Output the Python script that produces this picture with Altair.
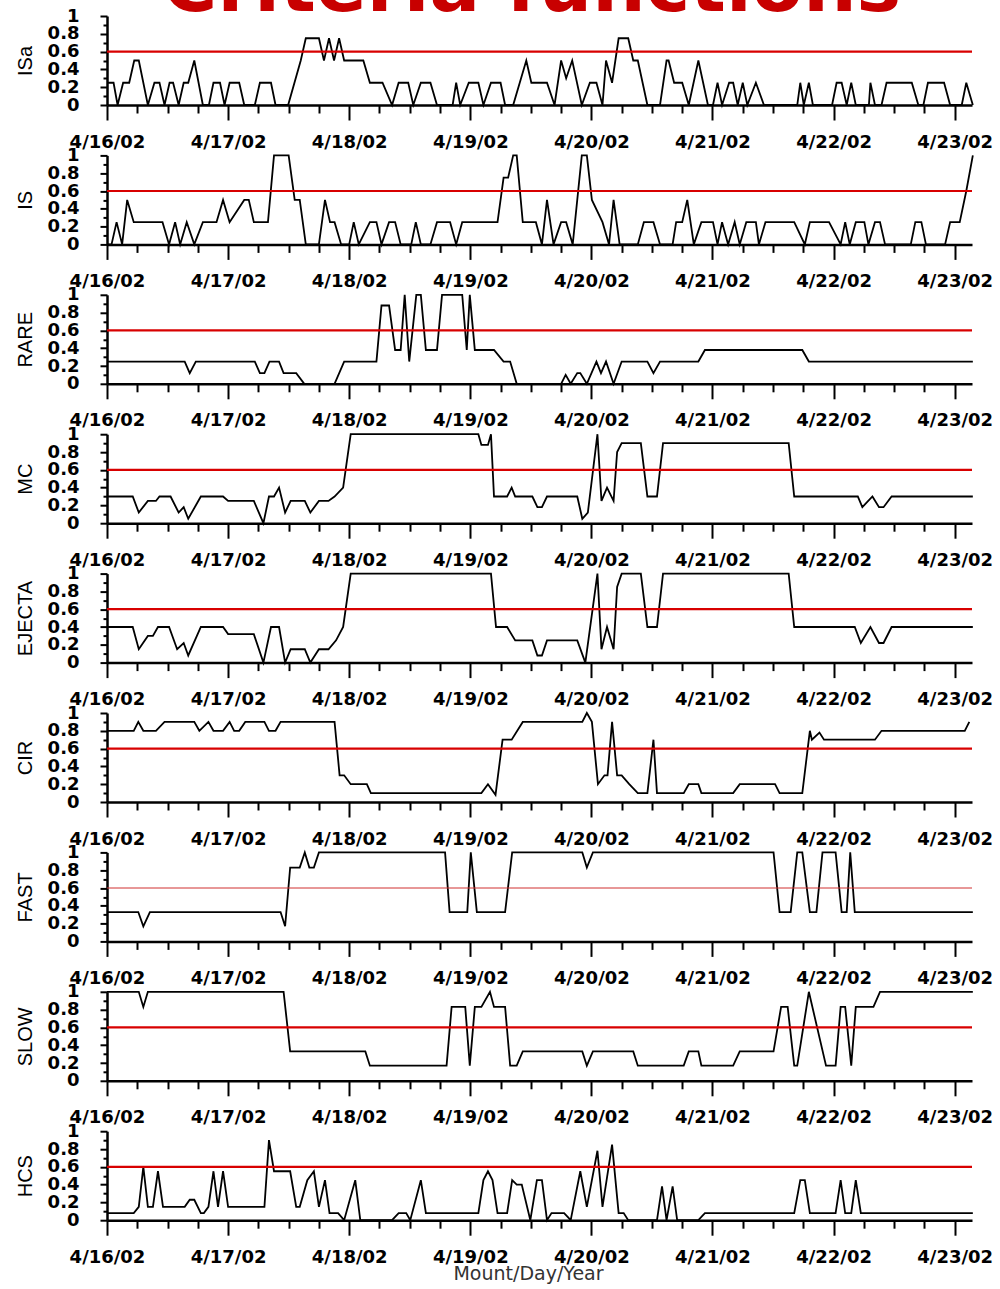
import altair as alt
import pandas as pd

# Hourly criteria-function series, hours counted from 2002-04-16 00:00
START = "2002-04-16"
THRESHOLD = [0.6]

ISA_H = [0, 1.3, 2.1, 3.2, 4.4, 5.4, 6.3, 8.1, 9.4, 10.4, 11.4, 12.4, 13.1, 14.2, 15.2, 16.1, 17.3, 19, 20.2, 21.1,
         22.4, 23.3, 24.3, 26.2, 27.2, 29.3, 30.3, 32.5, 33.4, 35.9, 38.4, 39.4, 42, 43, 44, 45, 46, 47, 50.8, 52.1,
         54.6, 56.5, 57.8, 59.7, 60.7, 62.2, 64.1, 65.4, 68.5, 69.2, 70, 71.7, 73.6, 74.6, 76.1, 78, 78.9, 80.5, 83.1,
         84.1, 87.2, 88.7, 90, 91, 92.2, 94.1, 95.7, 97, 98.2, 98.9, 100.1, 101.4, 103.3, 104.3, 105.2, 107.1, 109.6,
         110.9, 111.3, 112.4, 114, 115.3, 117.2, 119.1, 120.1, 121, 121.9, 123.3, 124.1, 125, 126, 126.9, 128.6, 130.2,
         136.8, 137.4, 138.1, 139.1, 139.9, 143.7, 144.6, 145.6, 146.6, 147.5, 148.4, 151, 151.3, 152.2, 153.5, 154.5,
         159.5, 160.8, 161.8, 162.7, 165.9, 167.1, 169.4, 170.3, 171.6]
ISA_V = [.25, .25, 0, .25, .25, .5, .5, 0, .25, .25, 0, .25, .25, 0, .25, .25, .5, 0, 0, .25,
         .25, 0, .25, .25, 0, 0, .25, .25, 0, 0, .5, .75, .75, .5, .75, .5, .75, .5, .5, .25,
         .25, 0, .25, .25, 0, .25, .25, 0, 0, .25, 0, .25, .25, 0, .25, .25, 0, 0, .5,
         .25, .25, 0, .5, .3, .5, 0, .25, .25, 0, .5, .25, .75, .75, .5, .5, 0, 0,
         .5, .5, .25, .25, 0, .5, 0, 0, .25, 0, .25, .25, 0, .25, 0, .25, 0,
         0, .25, 0, .25, 0, 0, .25, .25, 0, .25, 0, 0, .25, 0, 0, .25,
         .25, 0, 0, .25, .25, 0, 0, .25, 0]

IS_H = [0, 0.9, 1.9, 3, 4, 5.3, 11, 12.3, 13.5, 14.5, 15.8, 17.3, 19, 21.7, 23, 24.3, 27.2, 28.1, 29.1, 31.9,
        33.1, 36, 37.2, 38.2, 39.4, 42, 43.2, 44.2, 45.1, 46.4, 48, 48.9, 49.9, 52.1, 53.4, 54.4, 55.9, 57.1, 58.2,
        60.3, 61.2, 62.2, 64.1, 65.4, 68, 69.2, 70.4, 77.4, 78.6, 79.5, 80.5, 81.2, 82.4, 85, 86.2, 87.2, 88.5, 90,
        91, 92.3, 94.1, 95.1, 96.1, 98.2, 99.5, 100.4, 101.6, 105.2, 106.4, 108.3, 109.6, 112.1, 112.8, 114, 115,
        116.3, 117.8, 120.1, 121, 121.9, 123.1, 124.4, 125.4, 126.7, 128.6, 129.2, 130.5, 136.2, 138.3, 139.3, 143.1,
        145.4, 146.3, 147.2, 148.4, 150.1, 150.9, 152.2, 153.2, 154.2, 159.3, 160.2, 161.4, 162.3, 166.1, 167.1, 169,
        170.3, 171.6]
IS_V = [0, 0, .25, 0, .5, .25, .25, 0, .25, 0, .25, 0, .25, .25, .5, .25, .5, .5, .25, .25,
        1, 1, .5, .5, 0, 0, .5, .25, .25, 0, 0, .25, 0, .25, .25, 0, .25, .25, 0,
        0, .25, 0, 0, .25, .25, 0, .25, .25, .75, .75, 1, 1, .25, .25, 0, .5, 0, .25,
        .25, 0, 1, 1, .5, .25, 0, .5, 0, 0, .25, .25, 0, 0, .25, .25, .5,
        0, .25, .25, 0, .25, 0, .25, 0, .25, .25, 0, .25, .25, 0, .25, .25,
        0, .25, 0, .25, .25, 0, .25, .25, 0, 0, .25, .25, 0, 0, .25, .25,
        .6, 1]

RARE_H = [0, 15.4, 16.4, 17.6, 29.3, 30.3, 31.2, 32.2, 34.1, 35, 37.5, 39.1, 45.1, 47, 53.4, 54.4, 55.9, 57.1, 58.2,
          59, 59.9, 61.3, 62.2, 63.2, 65.4, 66.4, 70.4, 71.3, 71.9, 72.9, 76.7, 78.6, 79.9, 81.2, 90, 90.9, 91.9, 93.2,
          93.8, 95.1, 97, 97.9, 98.9, 100.4, 102, 107.1, 108.3, 109.6, 117.2, 118.5, 137.8, 139.1, 171.6]
RARE_V = [.25, .25, .12, .25, .25, .12, .12, .25, .25, .12, .12, 0, 0, .25, .25, .88, .88, .38, .38,
          1, .25, 1, 1, .38, .38, 1, 1, .38, 1, .38, .38, .25, .25, 0, 0, .1, 0, .12,
          .12, 0, .25, .12, .25, 0, .25, .25, .12, .25, .25, .38, .38, .25, .25]

MC_H = [0, 5.1, 6.3, 8.1, 9.7, 10.4, 12.6, 14.2, 15.2, 16.1, 18.6, 23, 24, 29.1, 31, 32.1, 33.1, 34.1, 35.3, 36.4,
        39.2, 40.3, 42, 43.9, 45.1, 46.8, 48.3, 73.6, 74.2, 75.5, 76.1, 76.7, 79.3, 80.2, 80.9, 84.3, 85.3, 86.2,
        87.2, 93.2, 94.2, 95.3, 97.2, 98, 99.1, 100.4, 101.1, 102, 105.8, 107.1, 109, 110.2, 135.1, 136.2, 148.8,
        149.7, 151.7, 153, 153.9, 155.5, 171.6]
MC_V = [.3, .3, .12, .25, .25, .3, .3, .12, .18, .05, .3, .3, .25, .25, 0, .3, .3, .4, .12, .25,
        .25, .12, .25, .25, .3, .4, 1, 1, .88, .88, 1, .3, .3, .4, .3, .3, .18, .18,
        .3, .3, .05, .12, 1, .25, .4, .25, .8, .9, .9, .3, .3, .9, .9, .3, .3,
        .18, .3, .18, .18, .3, .3]

EJECTA_H = [0, 5.1, 6.3, 8.1, 9.1, 10.1, 12.3, 13.9, 15.2, 16.1, 18.6, 23, 24, 29.1, 31, 32.5, 34.1, 35.3, 36.4,
            39.2, 40.3, 42, 43.9, 45.4, 46.8, 48.3, 76.1, 77.1, 79.3, 80.9, 84.3, 85.3, 86.2, 87.2, 93.2, 94.8, 97.2,
            98, 99.1, 100.4, 101.1, 102, 105.8, 107.1, 109, 110.2, 135.1, 136.2, 148.2, 149.4, 151.3, 153, 153.9,
            155.5, 171.6]
EJECTA_V = [.4, .4, .15, .3, .3, .4, .4, .15, .22, .08, .4, .4, .32, .32, 0, .4, .4, 0, .15,
            .15, 0, .15, .15, .25, .4, 1, 1, .4, .4, .25, .25, .08, .08, .25, .25, 0, 1,
            .15, .4, .15, .85, 1, 1, .4, .4, 1, 1, .4, .4, .22, .4, .22, .22,
            .4, .4]

CIR_H = [0, 5.3, 6.2, 7.2, 9.7, 11.4, 17.3, 18.3, 20.1, 21.1, 23, 24.3, 25.2, 26.2, 27.4, 31.2, 32.1, 33.4, 34.4,
         45.1, 46.1, 47, 48.3, 51.5, 52.3, 74.2, 75.5, 77, 78.4, 80.2, 82.4, 94.2, 95.1, 96.1, 97.3, 98.6, 99.2, 100.1,
         101.1, 102, 103.5, 105.2, 107.1, 108.3, 109, 114.3, 115.3, 117.2, 117.8, 124.1, 125.4, 132.4, 133.3, 137.8,
         139.3, 139.7, 141.2, 142.1, 152.2, 153.5, 170, 170.9]
CIR_V = [.8, .8, .9, .8, .8, .9, .9, .8, .9, .8, .8, .9, .8, .8, .9, .9, .8, .8, .9,
         .9, .3, .3, .2, .2, .1, .1, .2, .08, .7, .7, .9, .9, 1, .9, .2, .3, .3, .9,
         .3, .3, .2, .1, .1, .7, .1, .1, .2, .2, .1, .1, .2, .2, .1, .1,
         .8, .7, .78, .7, .7, .8, .8, .9]

FAST_H = [0, 6.2, 7.2, 8.5, 34.4, 35.3, 36.3, 38.2, 39.2, 40.1, 41, 42, 67, 67.9, 71.4, 72.1, 73.3, 78.9, 80.3,
          94.2, 95.1, 96.3, 132.1, 133.3, 135.5, 136.8, 137.8, 139.3, 140.6, 141.8, 144.4, 145.6, 146.6, 147.3,
          148.2, 171.6]
FAST_V = [.33, .33, .17, .33, .33, .17, .83, .83, 1, .83, .83, 1, 1, .33, .33, 1, .33, .33, 1,
          1, .83, 1, 1, .33, .33, 1, 1, .33, .33, 1, 1, .33, .33, 1,
          .33, .33]

SLOW_H = [0, 6.3, 7.2, 8.1, 35, 36.3, 51.2, 52.1, 67.3, 68.3, 71, 71.9, 72.9, 74.2, 75.9, 76.7, 78.9, 79.9, 81.2,
          82.4, 94.2, 95.1, 96.3, 104.3, 105.2, 114.3, 115.3, 117.2, 117.8, 124.1, 125.4, 132.1, 133.6, 134.9, 136.2,
          136.8, 139.1, 142.5, 144.4, 145.4, 146.3, 147.5, 148.4, 151.9, 153.2, 171.6]
SLOW_V = [1, 1, .83, 1, 1, .33, .33, .17, .17, .83, .83, .17, .83, .83, 1, .83, .83, .17, .17,
          .33, .33, .17, .33, .33, .17, .17, .33, .33, .17, .17, .33, .33, .83, .83, .17,
          .17, 1, .17, .17, .83, .83, .17, .83, .83, 1, 1]

HCS_H = [0, 5.3, 6.3, 7.2, 8.1, 9.1, 10.1, 11.1, 15.4, 16.4, 17.3, 18.6, 19.2, 20.1, 21.1, 22, 23, 24, 31.2, 32.1,
         33.1, 36.3, 37.5, 38.2, 39.7, 41, 42, 43.2, 44.1, 45.8, 47, 49.2, 50.2, 56.5, 57.8, 59.3, 60.1, 62.2, 63.2,
         73.6, 74.6, 75.5, 76.4, 77.4, 79.3, 80.3, 81.2, 82.2, 83.9, 85.2, 86.2, 87.2, 88.1, 90.6, 91.9, 93.8, 95.1,
         97.2, 98.2, 100.1, 101.4, 102.4, 103.3, 109, 110, 110.9, 112.1, 113, 117.2, 118.5, 136.2, 137.4, 138.3,
         139.3, 144.4, 145.4, 146.3, 147.5, 148.4, 149.4, 171.6]
HCS_V = [.08, .08, .15, .6, .15, .15, .55, .15, .15, .23, .23, .08, .08, .15, .55, .15, .55, .15, .15, .9,
         .55, .55, .15, .15, .45, .55, .15, .45, .08, .08, 0, .45, 0, 0, .08, .08, 0, .45, .08,
         .08, .45, .55, .45, .08, .08, .45, .4, .4, 0, .45, .45, 0, .08, .08, 0, .55, .15,
         .78, .15, .85, .08, .08, 0, 0, .38, 0, .38, 0, 0, .08, .08, .45, .45,
         .08, .08, .45, .08, .08, .45, .08, .08]

SERIES = [
    ("ISa", ISA_H, ISA_V),
    ("IS", IS_H, IS_V),
    ("RARE", RARE_H, RARE_V),
    ("MC", MC_H, MC_V),
    ("EJECTA", EJECTA_H, EJECTA_V),
    ("CIR", CIR_H, CIR_V),
    ("FAST", FAST_H, FAST_V),
    ("SLOW", SLOW_H, SLOW_V),
    ("HCS", HCS_H, HCS_V),
]

DAYS = [16, 17, 18, 19, 20, 21, 22, 23]
Y_MAJOR = [0, 0.2, 0.4, 0.6, 0.8, 1]
Y_MINOR = [0.1, 0.3, 0.5, 0.7, 0.9]

RED = "#d80000"
PLOT_W = 865
PLOT_H = 89

day_values = [alt.DateTime(year=2002, month=4, date=d) for d in DAYS]
quarter_values = [alt.DateTime(year=2002, month=4, date=d, hours=h) for d in DAYS[:-1] for h in (6, 12, 18)]
x_domain = [alt.DateTime(year=2002, month=4, date=16),
            alt.DateTime(year=2002, month=4, date=23, hours=3, minutes=26)]


def series_frame(hours, values):
    t = pd.Timestamp(START) + pd.to_timedelta(pd.Series(hours, dtype=float), unit="h")
    return pd.DataFrame({"t": t, "v": values})


def panel(name, hours, values, last):
    df = series_frame(hours, values)
    xs = alt.Scale(domain=x_domain)
    ys = alt.Scale(domain=[0, 1], nice=False)

    x_major = dict(values=day_values, format="%-m/%d/%y", tickSize=15, labelPadding=13,
                   orient="bottom", labelFlush=False, labelOverlap=False)
    if last:
        x_major.update(title="Mount/Day/Year", titleFont="DejaVu Sans", titleFontWeight="normal",
                       titleFontSize=19, titleColor="#333333", titleX=421, titleY=44,
                       titleAlign="center", titleBaseline="top")
    else:
        x_major.update(title=None)

    y_major = alt.Axis(values=Y_MAJOR, format="~g", tickSize=7, labelPadding=21, orient="left",
                       labelFlush=False, labelOverlap=False, title=name, titleFont="Liberation Sans",
                       titleFontWeight="normal", titleFontSize=20, titleAngle=270, titleX=-82,
                       titleY=PLOT_H / 2, titleAlign="center", titleBaseline="middle")

    minor = alt.Chart(df).mark_point(opacity=0).encode(
        x=alt.X("t:T", scale=xs, axis=alt.Axis(values=quarter_values, tickSize=8, labels=False,
                                                domain=False, title=None, orient="bottom")),
        y=alt.Y("v:Q", scale=ys, axis=alt.Axis(values=Y_MINOR, tickSize=4, labels=False,
                                                domain=False, title=None, orient="left")),
    )
    line = alt.Chart(df).mark_line(color="black", strokeWidth=1.8).encode(
        x=alt.X("t:T", scale=xs, axis=alt.Axis(**x_major)),
        y=alt.Y("v:Q", scale=ys, axis=y_major),
    )
    rule_width = 1 if name == "FAST" else 2.2
    rule_color = "#d03030" if name == "FAST" else RED
    rule = alt.Chart(pd.DataFrame({"thr": THRESHOLD})).mark_rule(
        color=rule_color, strokeWidth=rule_width
    ).encode(y=alt.Y("thr:Q", scale=ys, axis=None))

    return alt.layer(minor, line, rule).resolve_axis(x="independent", y="independent").properties(
        width=PLOT_W, height=PLOT_H
    )


panels = [panel(n, h, v, i == len(SERIES) - 1) for i, (n, h, v) in enumerate(SERIES)]

chart = alt.vconcat(*panels, spacing=50.4, bounds="flush").properties(
    title=alt.TitleParams("Criteria functions", font="DejaVu Sans", fontSize=75, fontWeight="bold",
                          color="#c80000", anchor="middle", baseline="alphabetic", offset=-79, dx=28),
    padding={"left": 15, "top": -49, "right": 5, "bottom": 4},
).configure_view(stroke=None).configure_axis(
    grid=False,
    domainColor="black",
    domainWidth=2.5,
    tickColor="black",
    tickWidth=2,
    labelColor="black",
    labelFont="DejaVu Sans",
    labelFontWeight="bold",
    labelFontSize=18,
)

chart.save("out.html", embed_options={"renderer": "svg", "actions": False})
